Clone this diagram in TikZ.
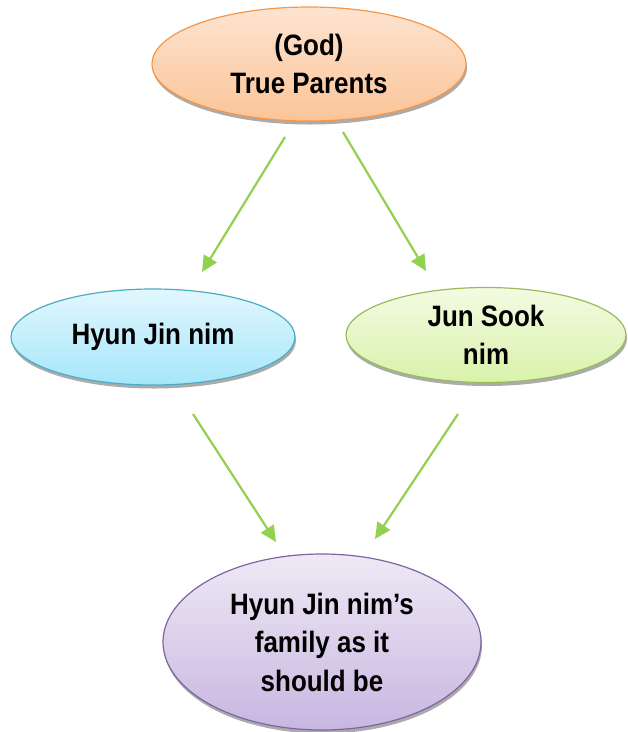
\documentclass[tikz,border=0pt]{standalone}
\usepackage{fontspec}
\setmainfont{Liberation Sans}[FakeStretch=0.88]
\usetikzlibrary{shapes.geometric,shadows,arrows.meta}

\definecolor{linkgreen}{HTML}{92D050}
\definecolor{orangeline}{HTML}{F79646}
\definecolor{blueline}{HTML}{4BACC6}
\definecolor{greenline}{HTML}{9BBB59}
\definecolor{purpleline}{HTML}{8064A2}

\tikzset{
  oval/.style={ellipse, draw, line width=1.2pt, inner sep=0pt, align=center,
    font=\bfseries\fontsize{29.5}{38.5}\selectfont,
    drop shadow={shadow xshift=1pt, shadow yshift=-3.5pt, fill=black!55, opacity=0.6}},
  link/.style={draw=linkgreen, line width=2.2pt, -{Triangle[length=16pt,width=15pt]}}
}

\begin{document}
\begin{tikzpicture}[x=1pt,y=-1pt]
  \useasboundingbox (0,0) rectangle (628,732);

  % ovals
  \node[oval, minimum width=314pt, minimum height=114pt, draw=orangeline,
        top color={rgb,255:red,253;green,228;blue,208}, bottom color={rgb,255:red,251;green,196;blue,152}]
        (parents) at (309,64) {(God)\\True Parents};

  \node[oval, minimum width=284pt, minimum height=96pt, draw=blueline,
        top color={rgb,255:red,226;green,247;blue,253}, bottom color={rgb,255:red,166;green,230;blue,250}]
        (hyunjin) at (153,337) {Hyun Jin nim};

  \node[oval, minimum width=280pt, minimum height=95pt, draw=greenline,
        top color={rgb,255:red,243;green,251;blue,226}, bottom color={rgb,255:red,216;green,242;blue,170}]
        (junsook) at (486,335) {Jun Sook\\nim};

  \node[oval, minimum width=318pt, minimum height=176pt, draw=purpleline,
        top color={rgb,255:red,238;green,233;blue,245}, bottom color={rgb,255:red,200;green,182;blue,224}]
        (family) at (322,642) {Hyun Jin nim’s\\family as it\\should be};

  % arrow ends
  \coordinate (parents-l) at (285,137);
  \coordinate (parents-r) at (343,132);
  \coordinate (hyunjin-in) at (202,272);
  \coordinate (junsook-in) at (426,271);
  \coordinate (hyunjin-out) at (193,414);
  \coordinate (junsook-out) at (458,414);
  \coordinate (family-l) at (276,542);
  \coordinate (family-r) at (375,539);

  % arrows
  \draw[link] (parents-l) -- (hyunjin-in);
  \draw[link] (parents-r) -- (junsook-in);
  \draw[link] (hyunjin-out) -- (family-l);
  \draw[link] (junsook-out) -- (family-r);
\end{tikzpicture}
\end{document}
